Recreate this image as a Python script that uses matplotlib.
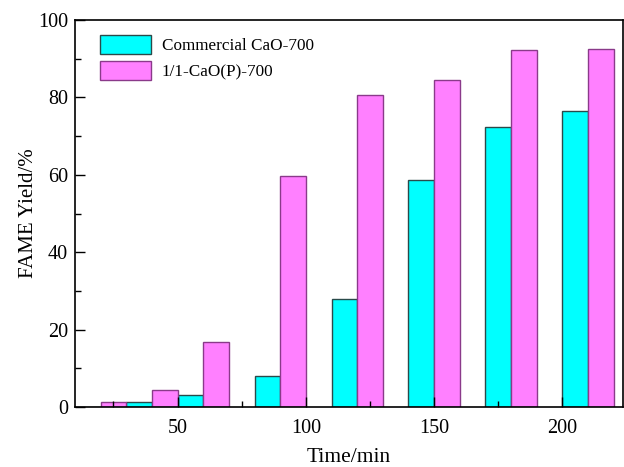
import matplotlib.pyplot as plt
from matplotlib.ticker import MultipleLocator

plt.rcParams['font.family'] = ['Liberation Serif', 'DejaVu Serif']

# reaction time (min) and FAME yield (%) for both catalysts
times = [20, 40, 60, 90, 120, 150, 180, 210]
commercial_cao = [0, 1.2, 3.1, 7.9, 27.9, 58.7, 72.3, 76.6]
cao_p = [1.2, 4.4, 16.9, 59.7, 80.6, 84.4, 92.2, 92.4]
labels = ['Commercial CaO-700', '1/1-CaO(P)-700']

width = 10

fig = plt.figure(figsize=(6.24, 4.67), dpi=100)
ax = fig.add_axes([0.1202, 0.1285, 0.8776, 0.8285])

ax.bar([t - width / 2 for t in times], commercial_cao, width=width,
       color='#00FFFF', edgecolor='#2a4a4a', linewidth=1.0, label=labels[0])
ax.bar([t + width / 2 for t in times], cao_p, width=width,
       color='#FF80FF', edgecolor='#8a3a8a', linewidth=1.0, label=labels[1])

ax.set_xlim(10, 223.5)
ax.set_ylim(0, 100)
ax.xaxis.set_major_locator(MultipleLocator(50))
ax.xaxis.set_minor_locator(MultipleLocator(25))
ax.yaxis.set_major_locator(MultipleLocator(20))
ax.yaxis.set_minor_locator(MultipleLocator(10))
ax.tick_params(which='major', direction='in', length=7, width=1, labelsize=14.5)
ax.tick_params(which='minor', direction='in', length=4, width=1)
ax.tick_params(axis='x', pad=9)
ax.tick_params(axis='y', pad=5)

for s in ax.spines.values():
    s.set_linewidth(1.2)

ax.set_xlabel('Time/min', fontsize=15.5, labelpad=7)
ax.set_ylabel('FAME Yield/%', fontsize=15, labelpad=0)

ax.legend(loc='upper left', bbox_to_anchor=(0.0457, 0.961), frameon=False,
          fontsize=12.3, handlelength=3.0, handleheight=1.3, handletextpad=0.6,
          labelspacing=0.4, borderpad=0, borderaxespad=0)

fig.savefig('out.png', dpi=100)
